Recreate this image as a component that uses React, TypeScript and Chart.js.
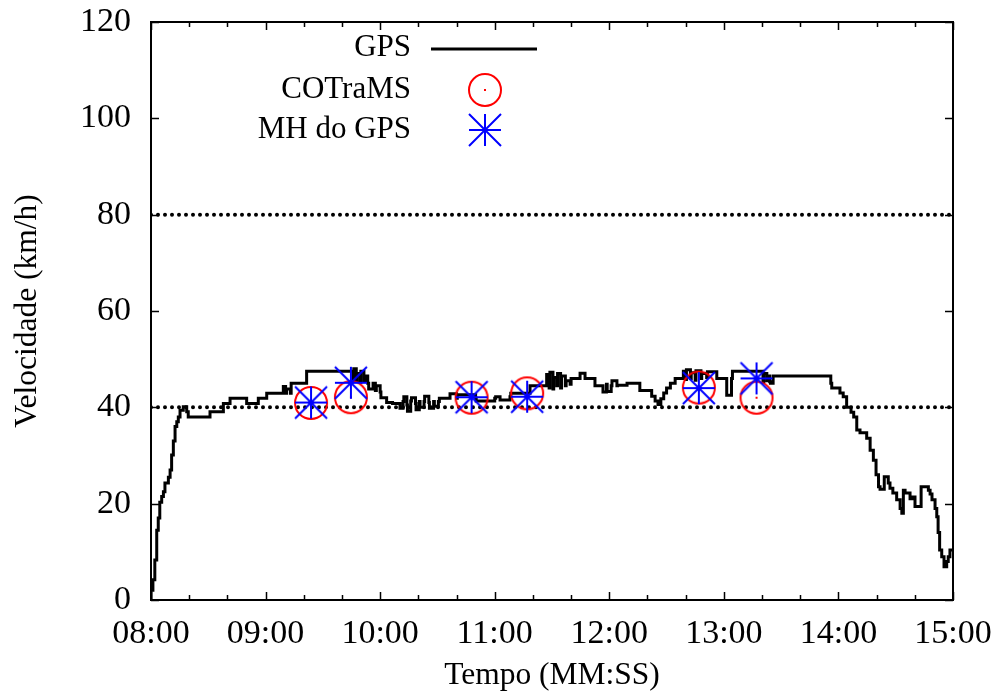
import React, { useEffect, useRef } from 'react';
import { Chart, registerables } from 'chart.js';
Chart.register(...registerables);

// GPS speed trace: time in seconds (value holds from each time until the next)
const gpsTime = [
  480, 481, 482, 483, 483.8, 484.6, 485.6, 486.5, 487.3, 489.1, 490, 490.8, 491.7, 492.6, 493.5, 494.3, 495.2, 496.9, 498.7, 499.5,
  510.9, 517.9, 521.4, 530.1, 536.2, 540.6, 549.3, 550.5, 551, 553, 553.4, 561.5,
  585.8, 586.2, 587.5, 587.9, 589.5, 589.9, 591.5, 592, 593.5, 594, 596.3, 597.5, 598, 600, 600.4, 603.4, 606.5, 610.4,
  612, 612.4, 614, 614.3, 616, 616.4, 618.5, 618.8, 620.5, 620.9, 623, 623.3, 625.5, 625.8, 628, 628.4, 630.5, 631,
  636.6, 640, 640.4, 650, 650.3, 660, 660.5, 662.8, 668, 668.4, 678.5, 687.2,
  688.5, 688.9, 690.5, 690.9, 692.5, 692.9, 694.5, 695, 697, 697.4, 699.5, 700, 702, 704.7, 707.3, 712.5, 716.7,
  718.5, 718.9, 721, 721.4, 724, 724.3, 729.3, 736, 742.2, 744, 745.5, 747, 748.5, 750, 752, 754.5, 758.8,
  760, 760.4, 762.5, 762.9, 765, 765.4, 768, 768.4, 771, 771.4, 776.3, 781.5, 784, 784.5,
  800.5, 800.9, 802.5, 802.9, 804, 804.4, 805.8, 836, 836.5, 840.8, 842.5, 844.3, 846.6, 848, 849.6,
  851.3, 854.8, 856.6, 858.3, 859.7, 861, 861.8, 864, 866.1, 867, 868.5, 870.5, 872.3, 873.2, 874, 874.9,
  877.5, 879, 880.1, 881.7, 883.3, 884.8, 887.1, 888, 889, 890.6, 891.5, 892.2, 893, 894.1, 895.3, 896.7,
  897.5, 898.4, 899.5, 900,
];
const gpsSpeed = [
  0, 2, 4.2, 8.3, 14.5, 17, 20.3, 21.5, 22.5, 24.3, 25.5, 27, 30.1, 33, 36, 37, 38, 39.4, 40.1, 39.1,
  38, 39.1, 40.8, 41.9, 40.8, 41.9, 42.9, 44.3, 42.9, 43.8, 42.9, 45,
  47.5, 45.5, 48, 45.5, 47, 45.2, 47.5, 45.5, 46.5, 45, 43.8, 45, 43.5, 44.5, 43.2, 42, 41, 40.8,
  39.8, 41.2, 42.2, 40.5, 39.2, 41.3, 42, 40.8, 39.5, 41.2, 40, 41.2, 42.3, 41, 39.8, 41.2, 40.2, 41.2,
  41.9, 42.8, 41.9, 42.6, 41.9, 41.3, 41.9, 42.2, 41.5, 42.2, 42.9, 44.5,
  46.8, 44, 47.3, 43.8, 46.2, 44.5, 47, 44, 46.5, 44.5, 45.5, 44.8, 46, 46, 47.1, 46, 44.5,
  43.2, 44.8, 43.3, 44.5, 45.5, 44.5, 44.6, 45, 43.5, 42.3, 41.3, 40.6, 41.8, 43, 44, 45, 46,
  47.5, 45.8, 47.8, 46, 47.2, 45.6, 47.6, 46, 47, 46.2, 47.4, 46, 42.5, 46,
  47.5, 45.2, 47, 45.5, 46.5, 45.3, 45, 46.5, 45, 44, 43, 42.2, 40, 39, 38,
  35.3, 34.7, 33.6, 31.1, 29, 26, 23.5, 23, 25.6, 24.3, 23.2, 22.2, 20.8, 19, 18, 22.8,
  22.2, 21, 21.4, 19.4, 19.4, 23.5, 23.5, 22.8, 22, 20.8, 19, 17.3, 14, 10.4, 9, 6.9,
  8, 9, 10.4, 10.4,
];

const cotramsTime = [563.8, 584.7, 647.9, 677, 766.9, 797.1];
const cotramsSpeed = [40.9, 42.1, 42.0, 42.9, 44.1, 42.0];
const mhTime = [563.8, 584.7, 647.9, 677, 766.9, 797.1];
const mhSpeed = [41.0, 45.1, 42.1, 42.2, 44.0, 46.0];
const limitLevels = [40, 80];

const xTickValues = [480, 540, 600, 660, 720, 780, 840, 900];
const xTickLabels = ['08:00', '09:00', '10:00', '11:00', '12:00', '13:00', '14:00', '15:00'];
const xMinorTicks = [500, 520, 560, 580, 620, 640, 680, 700, 740, 760, 800, 820, 860, 880];
const yTickValues = [0, 20, 40, 60, 80, 100, 120];

const FONT = 'Liberation Serif, Times New Roman, serif';

function makeCircle(): HTMLCanvasElement {
  const c = document.createElement('canvas');
  c.width = 38; c.height = 38;
  const g = c.getContext('2d')!;
  g.strokeStyle = '#ff0000'; g.lineWidth = 2;
  g.beginPath(); g.arc(19, 19, 16, 0, Math.PI * 2); g.stroke();
  g.fillStyle = '#ff0000'; g.fillRect(18, 18, 2, 2);
  return c;
}
function makeStar(): HTMLCanvasElement {
  const c = document.createElement('canvas');
  c.width = 38; c.height = 38;
  const g = c.getContext('2d')!;
  g.strokeStyle = '#0000ff'; g.lineWidth = 2;
  const r = 16, m = 19;
  g.beginPath();
  g.moveTo(m - r, m); g.lineTo(m + r, m);
  g.moveTo(m, m - r); g.lineTo(m, m + r);
  g.moveTo(m - r, m - r); g.lineTo(m + r, m + r);
  g.moveTo(m - r, m + r); g.lineTo(m + r, m - r);
  g.stroke();
  return c;
}

function zeroPad(s: any) {
  s.paddingTop = 0; s.paddingBottom = 0; s.paddingLeft = 0; s.paddingRight = 0;
}

export default function App() {
  const ref = useRef<HTMLCanvasElement | null>(null);
  useEffect(() => {
    document.body.style.margin = '0';
    const circle = makeCircle();
    const star = makeStar();
    const framePlugin = {
      id: 'frame',
      afterDraw(chart: any) {
        const { ctx, chartArea: a, scales } = chart;
        const x = scales.x, y = scales.y;
        ctx.save();
        ctx.strokeStyle = '#000';
        ctx.lineWidth = 1.5;
        ctx.beginPath();
        xTickValues.forEach((t) => {
          const px = Math.round(x.getPixelForValue(t)) + 0.5;
          ctx.moveTo(px, a.bottom); ctx.lineTo(px, a.bottom - 8);
          ctx.moveTo(px, a.top); ctx.lineTo(px, a.top + 8);
        });
        xMinorTicks.forEach((t) => {
          const px = Math.round(x.getPixelForValue(t)) + 0.5;
          ctx.moveTo(px, a.bottom); ctx.lineTo(px, a.bottom - 5);
          ctx.moveTo(px, a.top); ctx.lineTo(px, a.top + 5);
        });
        yTickValues.forEach((v) => {
          const py = Math.round(y.getPixelForValue(v)) + 0.5;
          ctx.moveTo(a.left, py); ctx.lineTo(a.left + 8, py);
          ctx.moveTo(a.right, py); ctx.lineTo(a.right - 8, py);
        });
        ctx.stroke();
        ctx.lineWidth = 2;
        ctx.strokeRect(a.left, a.top, a.right - a.left, a.bottom - a.top);

        // legend
        const ds = chart.data.datasets;
        ctx.font = `31px ${FONT}`;
        ctx.fillStyle = '#000';
        ctx.textAlign = 'right';
        ctx.textBaseline = 'middle';
        const rows = [48, 90, 130];
        ctx.fillText(ds[0].label, 411, rows[0]);
        ctx.fillText(ds[1].label, 411, rows[1]);
        ctx.fillText(ds[2].label, 411, rows[2]);
        ctx.lineWidth = 3;
        ctx.beginPath(); ctx.moveTo(431, 49); ctx.lineTo(537, 49); ctx.stroke();
        ctx.drawImage(circle, 485 - 19, rows[1] - 19);
        ctx.drawImage(star, 485 - 19, rows[2] - 19);
        ctx.restore();
      },
    };

    const chart = new Chart(ref.current!, {
      type: 'line',
      data: {
        datasets: [
          {
            label: 'GPS',
            data: gpsTime.map((t, i) => ({ x: t, y: gpsSpeed[i] })),
            borderColor: '#000',
            borderWidth: 3,
            pointRadius: 0,
            stepped: 'after',
            fill: false,
            order: 3,
          },
          {
            label: 'COTraMS',
            data: cotramsTime.map((t, i) => ({ x: t, y: cotramsSpeed[i] })),
            showLine: false,
            pointStyle: circle as any,
            pointRadius: 16,
            order: 2,
          },
          {
            label: 'MH do GPS',
            data: mhTime.map((t, i) => ({ x: t, y: mhSpeed[i] })),
            showLine: false,
            pointStyle: star as any,
            pointRadius: 16,
            order: 1,
          },
          ...limitLevels.map((lv) => ({
            label: `limit ${lv}`,
            data: [{ x: 480, y: lv }, { x: 900, y: lv }],
            borderColor: '#000',
            borderWidth: 4,
            borderDash: [0, 7],
            borderCapStyle: 'round' as const,
            pointRadius: 0,
            order: 4,
          })),
        ],
      },
      options: {
        animation: false,
        responsive: true,
        maintainAspectRatio: false,
        layout: { padding: { top: 22, right: 41, left: 0, bottom: 0 } },
        plugins: { legend: { display: false }, tooltip: { enabled: false } },
        scales: {
          x: {
            type: 'linear',
            min: 480,
            max: 900,
            grid: { display: false, drawTicks: false },
            border: { display: false },
            afterBuildTicks: (s: any) => { s.ticks = xTickValues.map((v) => ({ value: v })); },
            afterFit: (s: any) => { s.height = 95; zeroPad(s); },
            ticks: {
              padding: 14,
              color: '#000',
              maxRotation: 0,
              autoSkip: false,
              font: { family: FONT, size: 34 },
              callback: (v: any) => xTickLabels[xTickValues.indexOf(Number(v))] ?? '',
            },
            title: {
              display: true,
              text: 'Tempo (MM:SS)',
              color: '#000',
              font: { family: FONT, size: 31.5 },
              padding: { top: 0, bottom: 0 },
            },
          },
          y: {
            min: 0,
            max: 120,
            grid: { display: false, drawTicks: false },
            border: { display: false },
            afterBuildTicks: (s: any) => { s.ticks = yTickValues.map((v) => ({ value: v })); },
            afterFit: (s: any) => { s.width = 151; zeroPad(s); },
            ticks: {
              padding: 20,
              color: '#000',
              font: { family: FONT, size: 34 },
            },
            title: {
              display: true,
              text: 'Velocidade (km/h)',
              color: '#000',
              font: { family: FONT, size: 31.5 },
              padding: { top: 9, bottom: 0 },
            },
          },
        },
      },
      plugins: [framePlugin],
    });
    return () => chart.destroy();
  }, []);
  return (
    <div style={{ position: 'absolute', left: 0, top: 0, width: 994, height: 695, background: '#fff' }}>
      <canvas ref={ref} />
    </div>
  );
}
